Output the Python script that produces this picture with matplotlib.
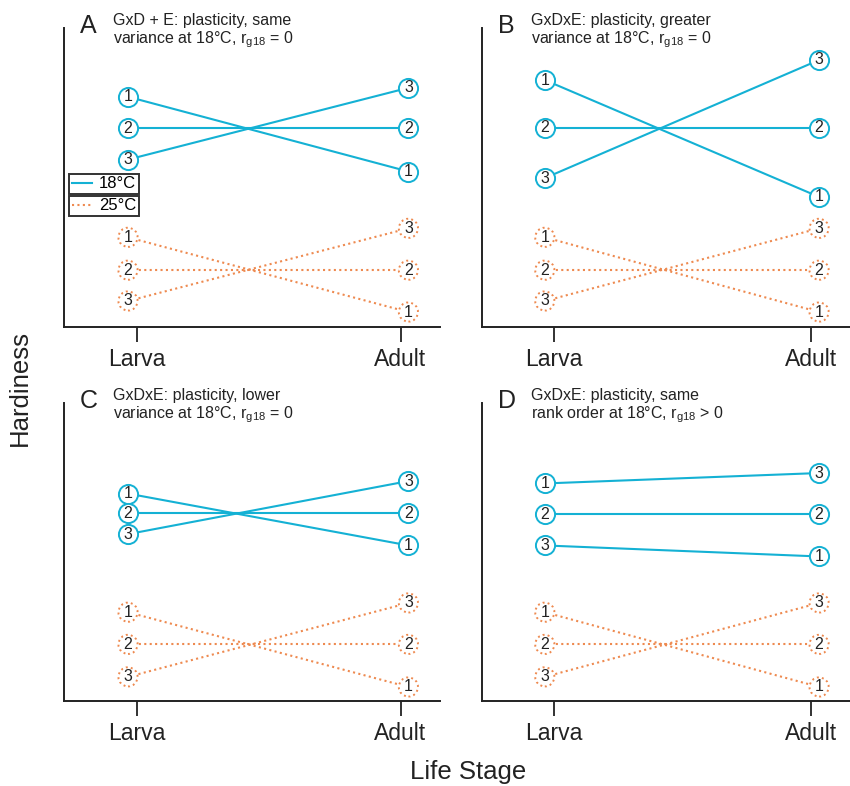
import matplotlib
matplotlib.use('Agg')
import matplotlib.pyplot as plt
from matplotlib.lines import Line2D

plt.rcParams['font.family'] = ['Liberation Sans', 'DejaVu Sans']
plt.rcParams['mathtext.default'] = 'regular'

# data (hardiness in arbitrary units)
stages = ['Larva', 'Adult']
letters = ['A', 'B', 'C', 'D']
titles = [
    'GxD + E: plasticity, same\nvariance at 18°C, r$_{g18}$ = 0',
    'GxDxE: plasticity, greater\nvariance at 18°C, r$_{g18}$ = 0',
    'GxDxE: plasticity, lower\nvariance at 18°C, r$_{g18}$ = 0',
    'GxDxE: plasticity, same\nrank order at 18°C, r$_{g18}$ > 0',
]
larva_labels = ['1', '2', '3']

blue_larva = [
    [77, 66.5, 56],
    [82.6, 66.6, 49.8],
    [69.6, 63, 56],
    [73, 62.6, 52.2],
]
blue_adult = [
    [52, 66.5, 80],
    [43.5, 66.6, 89.3],
    [52.2, 63, 73.8],
    [76.5, 62.6, 48.5],
]
blue_adult_labels = [
    ['1', '2', '3'],
    ['1', '2', '3'],
    ['1', '2', '3'],
    ['3', '2', '1'],
]
orange_larva = [
    [30, 19, 8.7],
    [30, 19, 8.7],
    [29.8, 19, 8.1],
    [29.8, 19, 8.1],
]
orange_adult = [
    [5, 19, 33],
    [5, 19, 33],
    [4.7, 19, 32.9],
    [4.7, 19, 32.9],
]
orange_adult_labels = ['1', '2', '3']

BLUE = '#14b1d4'
ORANGE = '#ee8a50'
DOTS = (0, (1, 1.6))

W, H = 850, 786
fig = plt.figure(figsize=(W / 100, H / 100), dpi=100)


def px_axes(left, top, right, bottom):
    return fig.add_axes([left / W, 1 - bottom / H, (right - left) / W, (bottom - top) / H])


def draw_group(ax, y0, y1, end_labels, color, ls):
    x0, x1 = 0.965, 2.03
    for a, b in zip(y0, y1):
        ax.plot([x0, x1], [a, b], color=color, lw=1.5, ls=ls, zorder=2)
    xs = [x0] * len(y0) + [x1] * len(y1)
    ys = list(y0) + list(y1)
    ax.scatter(xs, ys, s=190, facecolor='white', edgecolor=color, lw=1.4,
               linestyles=ls, zorder=3, clip_on=False)
    for lab, y in zip(larva_labels, y0):
        ax.text(x0, y, lab, ha='center', va='center', fontsize=11.5, color='#222222', zorder=4)
    for lab, y in zip(end_labels, y1):
        ax.text(x1, y, lab, ha='center', va='center', fontsize=11.5, color='#222222', zorder=4)


boxes = [
    (63.5, 28, 440, 327),
    (481.7, 28, 850, 327),
    (63.5, 403, 440, 701),
    (481.7, 403, 850, 701),
]

axes = []
for i, (l, t, r, b) in enumerate(boxes):
    ax = px_axes(l, t, r, b)
    axes.append(ax)
    draw_group(ax, blue_larva[i], blue_adult[i], blue_adult_labels[i], BLUE, '-')
    draw_group(ax, orange_larva[i], orange_adult[i], orange_adult_labels, ORANGE, DOTS)
    ax.set_xlim(0.72, 2.15)
    ax.set_ylim(0, 100)
    ax.set_xticks([1, 2])
    ax.set_xticklabels(stages, fontsize=16.5)
    ax.set_yticks([])
    ax.tick_params(axis='x', direction='out', length=11, width=1.3, pad=4, colors='#222222')
    for s in ['top', 'right']:
        ax.spines[s].set_visible(False)
    for s in ['left', 'bottom']:
        ax.spines[s].set_linewidth(1.4)
        ax.spines[s].set_color('#222222')
    # panel letter and description
    fig.text((l + 16) / W, 1 - (t - 2) / H, letters[i], fontsize=18, ha='left', va='center',
             color='#222222')
    fig.text((l + 49.5) / W, 1 - (t - 15) / H, titles[i], fontsize=11.5, ha='left', va='top',
             linespacing=1.12, color='#222222')

# two separately boxed legend entries in panel A
leg_kw = dict(loc='upper left', bbox_transform=fig.transFigure, fontsize=12,
              frameon=True, fancybox=False, handlelength=1.2, handletextpad=0.45,
              borderpad=0.15, borderaxespad=0)
h18 = Line2D([], [], color=BLUE, lw=1.5)
h25 = Line2D([], [], color=ORANGE, lw=1.5, ls=DOTS)
leg1 = axes[0].legend([h18], ['18°C'], bbox_to_anchor=(69 / W, 1 - 174 / H), **leg_kw)
leg1.get_frame().set_edgecolor('black')
leg1.get_frame().set_linewidth(1.4)
axes[0].add_artist(leg1)
leg2 = axes[0].legend([h25], ['25°C'], bbox_to_anchor=(69 / W, 1 - 196 / H), **leg_kw)
leg2.get_frame().set_edgecolor('black')
leg2.get_frame().set_linewidth(1.4)

fig.text(20 / W, 1 - 388 / H, 'Hardiness', rotation=90, fontsize=18.5, ha='center', va='center',
         color='#222222')
fig.text(468 / W, 1 - 772 / H, 'Life Stage', fontsize=18.5, ha='center', va='center',
         color='#222222')

fig.savefig('out.png', dpi=100)
